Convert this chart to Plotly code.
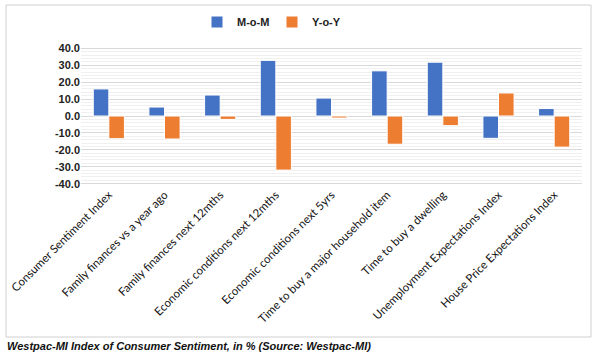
import plotly.graph_objects as go

categories = [
    "Consumer Sentiment Index",
    "Family finances vs a year ago",
    "Family finances next 12mths",
    "Economic conditions next 12mths",
    "Economic conditions next 5yrs",
    "Time to buy a major household item",
    "Time to buy a dwelling",
    "Unemployment Expectations Index",
    "House Price Expectations Index",
]
mom = [16.0, 5.3, 12.4, 32.9, 10.6, 26.7, 31.8, -13.2, 4.4]
yoy = [-13.4, -13.6, -2.0, -32.0, -1.2, -16.7, -5.7, 13.6, -18.4]
tick_vals = [-40, -30, -20, -10, 0, 10, 20, 30, 40]
tick_text = ["-40.0", "-30.0", "-20.0", "-10.0", "0.0", "10.0", "20.0", "30.0", "40.0"]

fig = go.Figure()
fig.add_trace(go.Bar(x=categories, y=mom, name="M-o-M",
                     marker=dict(color="#4472C4", line=dict(color="white", width=1))))
fig.add_trace(go.Bar(x=categories, y=yoy, name="Y-o-Y",
                     marker=dict(color="#ED7D31", line=dict(color="white", width=1))))

L, R, T, B = 81, 20, 47, 178
W, H = 602, 363
pw = W - L - R
ph = H - T - B

def px(x):
    return (x - L) / pw

def py(y):
    return (H - B - y) / ph

fig.update_layout(
    width=W, height=H,
    margin=dict(l=L, r=R, t=T, b=B, autoexpand=False),
    paper_bgcolor="white", plot_bgcolor="white",
    barmode="group", bargap=0.44, bargroupgap=0.0,
    font=dict(family="Liberation Sans, Arial", color="#222222"),
    legend=dict(orientation="h", xref="container", yref="container",
                x=272 / W, xanchor="center", y=1 - 22 / H, yanchor="middle",
                font=dict(size=11, family="Liberation Sans, Arial", weight="bold", color="#222222"),
                entrywidth=30, entrywidthmode="pixels", itemwidth=30, traceorder="normal"),
    xaxis=dict(tickangle=-45, automargin=False,
               tickfont=dict(size=11.5, family="Lato, Carlito, Calibri", color="#111111"),
               showgrid=False, showline=False, ticks=""),
    yaxis=dict(range=[-40.8, 40.8], tickvals=tick_vals, ticktext=tick_text, automargin=False,
               tickfont=dict(size=11, family="Liberation Sans, Arial", weight="bold", color="#222222"),
               showgrid=True, gridcolor="#D9D9D9", gridwidth=1,
               zeroline=True, zerolinecolor="#D9D9D9", zerolinewidth=1,
               minor=dict(dtick=2, showgrid=True, gridcolor="#F0F0F0", gridwidth=1),
               ticks="", showline=False),
    shapes=[dict(type="rect", xref="paper", yref="paper",
                 x0=px(6), x1=px(591), y0=py(337), y1=py(5),
                 line=dict(color="#D0D0D0", width=1), layer="below")],
    annotations=[dict(text="Westpac-MI Index of Consumer Sentiment, in % (Source: Westpac-MI)",
                      xref="paper", yref="paper", x=px(5), y=py(346),
                      xanchor="left", yanchor="middle", showarrow=False,
                      font=dict(size=11, family="Liberation Sans, Arial", color="#111111",
                                weight="bold", style="italic"))],
)

fig.write_html("out.html", config={"displayModeBar": False},
               post_script="document.body.style.margin='0';document.body.style.overflow='hidden';")
